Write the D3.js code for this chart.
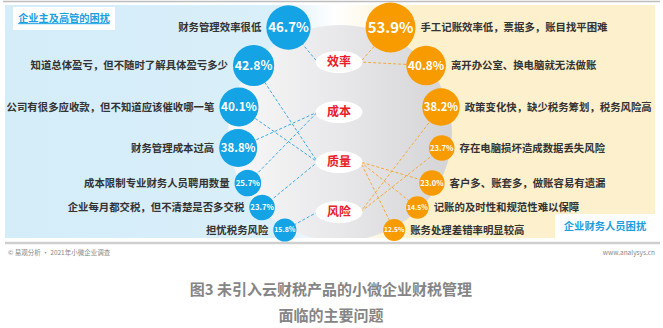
<!DOCTYPE html>
<html><head><meta charset="utf-8">
<script src="https://cdn.jsdelivr.net/npm/d3@7"></script>
<style>body{margin:0;background:#fff}svg{display:block}text{font-family:"Noto Sans CJK SC","Noto Sans",sans-serif}</style>
</head><body><svg id="c" width="663" height="328"></svg>
<script>
const ownerIssues = ["财务管理效率很低","知道总体盈亏，但不随时了解具体盈亏多少","公司有很多应收款，但不知道应该催收哪一笔","财务管理成本过高","成本限制专业财务人员聘用数量","企业每月都交税，但不清楚是否多交税","担忧税务风险"];
const ownerValues = [46.7,42.8,40.1,38.8,25.7,23.7,15.8];
const ownerCategory = ["效率","质量","质量","成本","成本","质量","风险"];
const staffIssues = ["手工记账效率低，票据多，账目找平困难","离开办公室、换电脑就无法做账","政策变化快，缺少税务筹划，税务风险高","存在电脑损坏造成数据丢失风险","客户多、账套多，做账容易有遗漏","记账的及时性和规范性难以保障","账务处理差错率明显较高"];
const staffValues = [53.9,40.8,38.2,23.7,23.0,14.5,12.5];
const staffCategory = ["效率","效率","风险","风险","质量","质量","质量"];
const categories = ["效率","成本","质量","风险"];
const ownerTitle = "企业主及高管的困扰";
const staffTitle = "企业财务人员困扰";
const source = "© 易观分析 · 2021年小微企业调查";
const site = "www.analysys.cn";
const titleLines = ["图3 未引入云财税产品的小微企业财税管理","面临的主要问题"];

const svg = d3.select("#c");
const defs = svg.append("defs");
const BLUE="#14a3e4", ORANGE="#f89b00", LBLUE="#3aa9e6", LORANGE="#f4a93a";

// scales
const rScale = d3.scaleLinear().domain([12.5,25,40,54]).range([11,13,19.5,25]);
const yRow = d3.scaleLinear().domain(d3.range(7)).range([27.5,65.5,107,148,183,207.5,230]);
const yCat = d3.scalePoint().domain(categories).range([62,212]);
const CX=339, CY=130, RY=118;
const arcX = (y, rx, side) => CX + side*rx*Math.sqrt(Math.max(0,1-((y-CY)/RY)**2));
const fmt = v => d3.format(".1f")(v)+"%";

// backgrounds
const gb = defs.append("linearGradient").attr("id","gb").attr("x1",0).attr("x2",1);
gb.append("stop").attr("offset",0).attr("stop-color","#d4edf9");
gb.append("stop").attr("offset",0.82).attr("stop-color","#d9effa");
gb.append("stop").attr("offset",1).attr("stop-color","#ffffff");
const gy = defs.append("linearGradient").attr("id","gy").attr("x1",0).attr("x2",1);
gy.append("stop").attr("offset",0).attr("stop-color","#ffffff");
gy.append("stop").attr("offset",0.25).attr("stop-color","#fdf0cc");
gy.append("stop").attr("offset",1).attr("stop-color","#fdf0cc");
const gg = defs.append("linearGradient").attr("id","gg").attr("x1",0).attr("x2",1);
gg.append("stop").attr("offset",0).attr("stop-color","#f8f8f9");
gg.append("stop").attr("offset",0.5).attr("stop-color","#e8e8ea");
gg.append("stop").attr("offset",1).attr("stop-color","#d4d4d6");
defs.append("clipPath").attr("id","pc").append("rect").attr("x",5).attr("y",5).attr("width",650).attr("height",233);

svg.append("line").attr("x1",3).attr("x2",660).attr("y1",1.5).attr("y2",1.5).attr("stroke","#bdbdbd").attr("stroke-width",1.5);
svg.append("rect").attr("x",5).attr("y",5).attr("width",330).attr("height",233).attr("fill","url(#gb)");
svg.append("rect").attr("x",335).attr("y",5).attr("width",320).attr("height",233).attr("fill","url(#gy)");
svg.append("ellipse").attr("clip-path","url(#pc)").attr("cx",340).attr("cy",133).attr("rx",112).attr("ry",108).attr("fill","url(#gg)");
svg.append("line").attr("x1",5).attr("x2",660).attr("y1",243).attr("y2",243).attr("stroke","#cfcfcf").attr("stroke-width",2.5);

// build nodes
const owners = ownerIssues.map((t,i)=>{const y=yRow(i), r=rScale(ownerValues[i]); return {t,v:ownerValues[i],c:ownerCategory[i],y,r,x:arcX(y,102,-1)};});
const staff = staffIssues.map((t,i)=>{const y=yRow(i), r=rScale(staffValues[i]); return {t,v:staffValues[i],c:staffCategory[i],y,r,x:arcX(y,104,1)};});
const catRX=23.5, catRY=11;

// connectors
svg.append("g").selectAll("line").data(owners).join("line")
  .attr("x1",d=>d.x).attr("y1",d=>d.y).attr("x2",CX-catRX+2).attr("y2",d=>yCat(d.c))
  .attr("stroke",LBLUE).attr("stroke-width",1).attr("stroke-dasharray","3,2");
svg.append("g").selectAll("line").data(staff).join("line")
  .attr("x1",d=>d.x).attr("y1",d=>d.y).attr("x2",CX+catRX-2).attr("y2",d=>yCat(d.c))
  .attr("stroke",LORANGE).attr("stroke-width",1).attr("stroke-dasharray","3,2");

// category ellipses
const cg = svg.append("g").selectAll("g").data(categories).join("g").attr("transform",d=>`translate(${CX},${yCat(d)})`);
cg.append("ellipse").attr("rx",catRX).attr("ry",catRY).attr("fill","#fff");
cg.append("text").text(d=>d).attr("text-anchor","middle").attr("dy","0.36em").attr("fill","#e8202a").attr("font-size",12).attr("font-weight",600);

// circles
function drawSide(data, color, side){
  const g = svg.append("g").selectAll("g").data(data).join("g");
  g.append("circle").attr("cx",d=>d.x).attr("cy",d=>d.y).attr("r",d=>d.r).attr("fill",color);
  g.append("text").attr("x",d=>d.x).attr("y",d=>d.y).attr("dy","0.36em").attr("text-anchor","middle")
    .attr("fill","#fff").attr("font-weight",600).attr("font-size",d=>d.r*0.6).text(d=>fmt(d.v));
  g.append("text").attr("x",d=>d.x+side*(d.r+5)).attr("y",d=>d.y).attr("dy","0.36em")
    .attr("text-anchor",side<0?"end":"start").attr("fill","#333").attr("font-weight",700).attr("font-size",10.4).text(d=>d.t);
}
drawSide(owners, BLUE, -1);
drawSide(staff, ORANGE, 1);

// panel titles
svg.append("rect").attr("x",13).attr("y",7).attr("width",102).attr("height",23).attr("fill","#fff");
svg.append("text").attr("x",64).attr("y",18.5).attr("dy","0.36em").attr("text-anchor","middle").attr("fill","#1a9fe0")
  .attr("font-weight",700).attr("font-size",10.2).attr("text-decoration","underline").text(ownerTitle);
svg.append("rect").attr("x",555).attr("y",214).attr("width",100).attr("height",24).attr("fill","#fff");
svg.append("text").attr("x",605).attr("y",226).attr("dy","0.36em").attr("text-anchor","middle").attr("fill","#1a9fe0")
  .attr("font-weight",700).attr("font-size",10.3).text(staffTitle);

// footer
svg.append("text").attr("x",8).attr("y",253).attr("dy","0.36em").attr("fill","#888").attr("font-size",6.5).text(source);
svg.append("text").attr("x",655).attr("y",253).attr("dy","0.36em").attr("text-anchor","end").attr("fill","#888").attr("font-size",6.5).text(site);
svg.append("g").selectAll("text").data(titleLines).join("text")
  .attr("x",331).attr("y",(d,i)=>290+i*26).attr("dy","0.36em").attr("text-anchor","middle")
  .attr("fill","#858585").attr("font-weight",700).attr("font-size",15).text(d=>d);
</script></body></html>
